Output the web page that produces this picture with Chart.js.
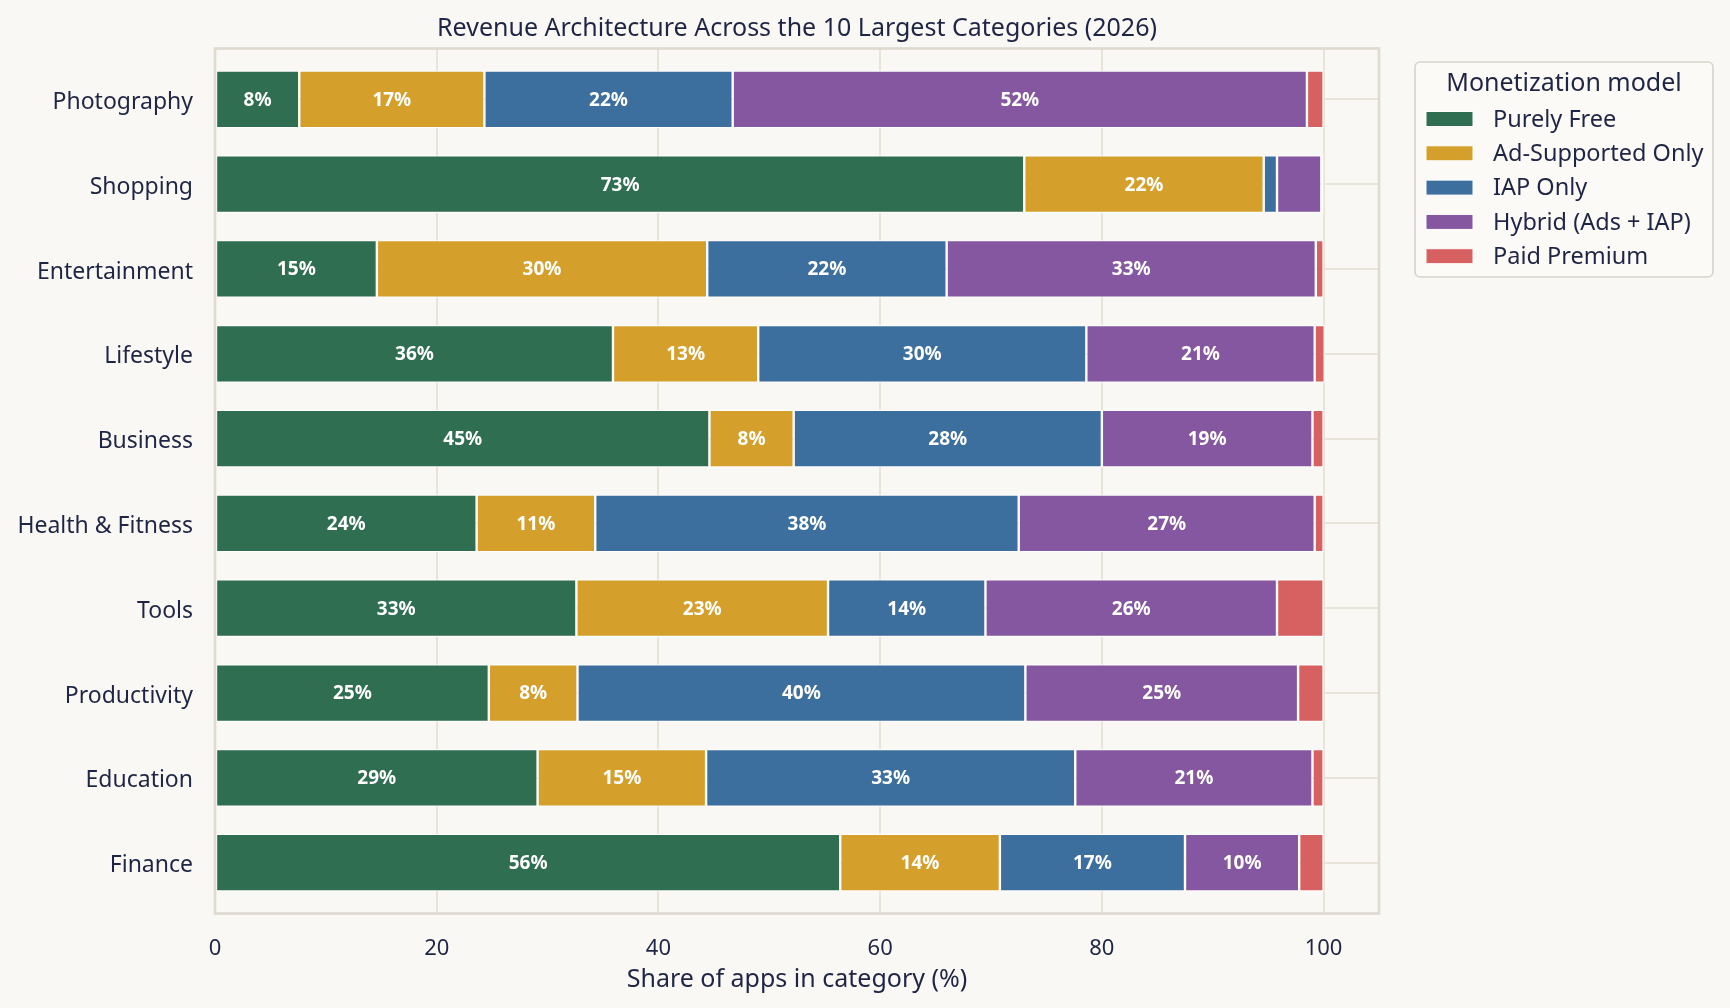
<!DOCTYPE html>
<html>
<head>
<meta charset="utf-8">
<title>Revenue Architecture</title>
<script src="https://cdn.jsdelivr.net/npm/chart.js@4.4.1/dist/chart.umd.min.js"></script>
<style>
  html, body { margin: 0; padding: 0; background: #faf8f4; }
  #chart { display: block; }
</style>
</head>
<body>
<canvas id="chart" width="1730" height="1008" style="width:1730px;height:1008px"></canvas>
<script>
// categories top to bottom, shares in % per monetization model
const categories = ['Photography', 'Shopping', 'Entertainment', 'Lifestyle', 'Business',
  'Health & Fitness', 'Tools', 'Productivity', 'Education', 'Finance'];
const purelyFree   = [7.6, 73.0, 14.6, 35.9, 44.6, 23.6, 32.6, 24.7, 29.1, 56.4];
const adSupported  = [16.7, 21.6, 29.8, 13.1, 7.6, 10.7, 22.7, 8.0, 15.2, 14.4];
const iapOnly      = [22.4, 1.2, 21.6, 29.6, 27.8, 38.2, 14.2, 40.4, 33.3, 16.7];
const hybrid       = [51.8, 4.0, 33.3, 20.6, 19.0, 26.7, 26.3, 24.6, 21.4, 10.3];
const paidPremium  = [1.5, 0.2, 0.7, 0.9, 1.0, 0.8, 4.2, 2.3, 1.0, 2.2];
const xTicks = [0, 20, 40, 60, 80, 100];

const seriesNames = ['Purely Free', 'Ad-Supported Only', 'IAP Only', 'Hybrid (Ads + IAP)', 'Paid Premium'];
const seriesColors = ['#2f6e50', '#d4a02b', '#3c6f9e', '#8457a0', '#d76161'];
const seriesValues = [purelyFree, adSupported, iapOnly, hybrid, paidPremium];

const TEXT = '#1f2544';
const FONT = "'Noto Sans', sans-serif";

const datasets = seriesValues.map((vals, k) => ({
  label: seriesNames[k],
  data: vals.map((v, i) => ({ x: v, y: i })),
  backgroundColor: seriesColors[k],
  borderColor: '#ffffff',
  borderWidth: 1.2,
  borderSkipped: false,
  barPercentage: 0.68,
  categoryPercentage: 1.0
}));

// frame around plot area (drawn over bars like axis spines)
const framePlugin = {
  id: 'frame',
  afterDatasetsDraw(chart) {
    const { ctx, chartArea: a } = chart;
    ctx.save();
    ctx.strokeStyle = '#dfdbd1';
    ctx.lineWidth = 2.7;
    ctx.strokeRect(a.left, a.top, a.right - a.left, a.bottom - a.top);
    ctx.restore();
  }
};

// percentage labels in the middle of wide segments
const labelPlugin = {
  id: 'segLabels',
  afterDatasetsDraw(chart) {
    const { ctx } = chart;
    ctx.save();
    ctx.font = "bold 19px " + FONT;
    ctx.fillStyle = '#ffffff';
    ctx.textAlign = 'center';
    ctx.textBaseline = 'middle';
    chart.data.datasets.forEach((ds, k) => {
      chart.getDatasetMeta(k).data.forEach((bar, i) => {
        const v = ds.data[i].x;
        if (v < 5) return;
        const p = bar.getProps(['x', 'y', 'base'], true);
        ctx.fillText(Math.round(v) + '%', (p.x + p.base) / 2, p.y + 1);
      });
    });
    ctx.restore();
  }
};

// boxed legend on the right, with title
const legendPlugin = {
  id: 'boxLegend',
  afterDraw(chart) {
    const { ctx } = chart;
    const left = 1415, top = 62, w = 298, h = 215;
    ctx.save();
    ctx.beginPath();
    ctx.roundRect(left, top, w, h, 5);
    ctx.fillStyle = '#fbfaf7';
    ctx.fill();
    ctx.strokeStyle = '#d8d4cb';
    ctx.lineWidth = 1.6;
    ctx.stroke();
    ctx.fillStyle = TEXT;
    ctx.textAlign = 'center';
    ctx.textBaseline = 'middle';
    ctx.font = "25px " + FONT;
    ctx.fillText('Monetization model', left + w / 2, top + 22);
    ctx.textAlign = 'left';
    ctx.font = "23.5px " + FONT;
    chart.data.datasets.forEach((ds, k) => {
      const cy = top + 57 + k * 34.3;
      ctx.fillStyle = ds.backgroundColor;
      ctx.fillRect(left + 11, cy - 7.5, 47, 15);
      ctx.strokeStyle = '#ffffff';
      ctx.lineWidth = 1;
      ctx.strokeRect(left + 11, cy - 7.5, 47, 15);
      ctx.fillStyle = TEXT;
      ctx.fillText(ds.label, left + 78, cy + 1);
    });
    ctx.restore();
  }
};

new Chart(document.getElementById('chart'), {
  type: 'bar',
  data: { datasets: datasets },
  plugins: [framePlugin, labelPlugin, legendPlugin],
  options: {
    indexAxis: 'y',
    responsive: false,
    animation: false,
    devicePixelRatio: 1,
    layout: { padding: { left: 0, right: 351, top: 0, bottom: 0 } },
    plugins: {
      legend: { display: false },
      tooltip: { enabled: false },
      title: {
        display: true,
        fullSize: false,
        text: 'Revenue Architecture Across the 10 Largest Categories (2026)',
        color: TEXT,
        font: { family: FONT, size: 25, weight: 'normal' },
        padding: { top: 14, bottom: 4.5 }
      }
    },
    scales: {
      x: {
        type: 'linear',
        stacked: true,
        min: 0,
        max: 105,
        afterBuildTicks: s => { s.ticks = xTicks.map(v => ({ value: v })); },
        afterFit: s => { s.height = 94.5; },
        ticks: { color: TEXT, font: { family: FONT, size: 22 }, padding: 22 },
        grid: { color: '#e8e4da', lineWidth: 2, drawTicks: false },
        border: { display: false },
        title: {
          display: true,
          text: 'Share of apps in category (%)',
          color: TEXT,
          font: { family: FONT, size: 25 },
          padding: { top: 0, bottom: 13 }
        }
      },
      y: {
        type: 'linear',
        stacked: true,
        reverse: true,
        offset: false,
        min: -0.6,
        max: 9.6,
        afterBuildTicks: s => { s.ticks = categories.map((c, i) => ({ value: i })); },
        afterFit: s => { s.width = 215; },
        ticks: {
          color: TEXT,
          font: { family: FONT, size: 23 },
          padding: 22,
          labelOffset: 3,
          autoSkip: false,
          callback: v => categories[v]
        },
        grid: { color: '#e8e4da', lineWidth: 2, drawTicks: false, offset: false },
        border: { display: false }
      }
    }
  }
});
</script>
</body>
</html>
